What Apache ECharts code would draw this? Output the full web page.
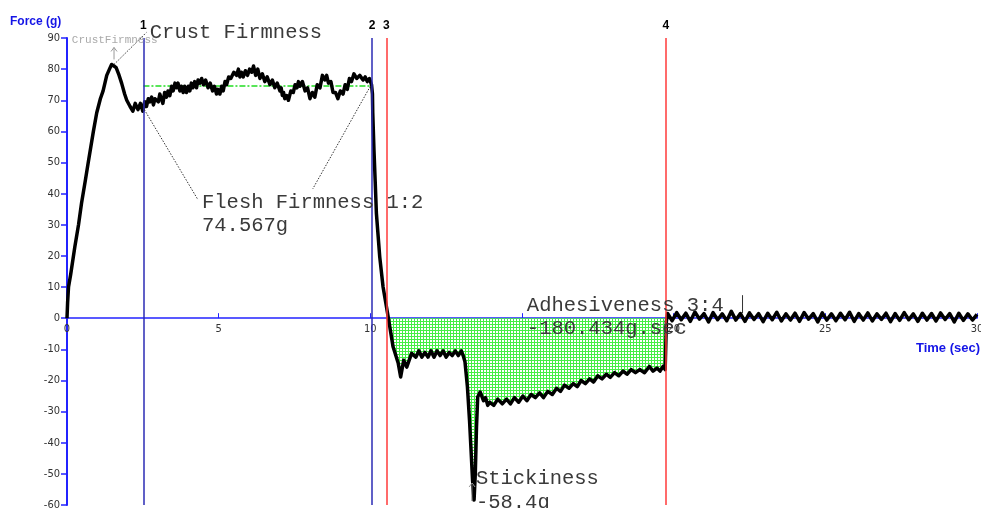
<!DOCTYPE html>
<html><head><meta charset="utf-8">
<script src="https://cdn.jsdelivr.net/npm/echarts@6/dist/echarts.min.js"></script>
<style>html,body{margin:0;padding:0;background:#fff}#c{width:981px;height:508px}</style>
</head><body><div id="c"></div>
<script>
// ---- data: [time (sec), force (g)] ----
const riseAndCrust = [[0,0],[0.02,5],[0.05,10],[0.12,14],[0.26,23],[0.38,30],[0.48,37],[0.60,44],[0.70,50],[0.87,60],[0.98,66],[1.10,70.5],[1.19,73],[1.31,78],[1.40,80],[1.47,81.5],[1.55,81],[1.62,80.5],[1.70,78.5],[1.80,75.5],[1.90,72],[1.97,70],[2.08,68],[2.17,66.5],[2.25,69],[2.34,67],[2.42,69],[2.50,66.5]];
const fleshPlateau = [[2.56,69.5],[2.62,68],[2.68,70.5],[2.73,69.5],[2.79,71],[2.85,68.5],[2.90,70.5],[2.96,71],[3.01,69.5],[3.06,72],[3.11,70.5],[3.16,69],[3.22,72.5],[3.28,71],[3.33,73],[3.39,71.5],[3.45,74.5],[3.50,73],[3.56,75.5],[3.61,74],[3.66,75.5],[3.72,73],[3.77,74.5],[3.83,72.5],[3.88,74.5],[3.94,72.5],[4.00,74.5],[4.05,73],[4.10,75.5],[4.15,74],[4.21,76],[4.27,74],[4.32,76.5],[4.38,75.5],[4.44,77],[4.50,75],[4.57,76.5],[4.65,74],[4.72,75.5],[4.80,73],[4.86,74.5],[4.93,72],[4.98,73.5],[5.04,72],[5.10,74.5],[5.15,73],[5.21,76],[5.26,75],[5.33,77.5],[5.40,77],[5.50,79],[5.59,78],[5.65,80],[5.70,77.5],[5.75,79],[5.81,77.5],[5.88,79.5],[5.95,78],[6.02,80],[6.09,79],[6.15,81],[6.22,78],[6.29,80],[6.36,77],[6.44,78.5],[6.52,76],[6.60,77.5],[6.69,75],[6.77,76.5],[6.85,74],[6.93,75.5],[7.02,73],[7.06,74],[7.10,71.5],[7.14,72.5],[7.18,70.5],[7.24,71.5],[7.30,70],[7.38,73],[7.46,72.5],[7.52,75],[7.58,74],[7.63,76],[7.68,74.5],[7.76,76],[7.85,73],[7.93,74],[8.01,70.5],[8.09,72.5],[8.17,71],[8.25,75],[8.34,74],[8.42,78],[8.50,76.5],[8.56,78],[8.62,75.5],[8.70,76],[8.77,72.5],[8.85,72.5],[8.93,70.5],[9.01,73],[9.10,72],[9.17,75],[9.24,73.5],[9.31,77],[9.38,76],[9.46,78.5],[9.55,77],[9.65,78],[9.76,76.5],[9.83,77.5],[9.90,76],[9.97,77],[10.04,75]];
const releaseAndDip = [[10.07,72],[10.08,66],[10.12,54],[10.16,44],[10.20,33.7],[10.31,19.7],[10.42,10],[10.59,0.3],[10.75,-9.2],[10.92,-14.5],[11.00,-18.9],[11.10,-13.5],[11.20,-15.7],[11.36,-11.3],[11.50,-12.5],[11.60,-10.5],[11.70,-12.5],[11.80,-11],[11.90,-12.5],[12.00,-10.5],[12.10,-12.5],[12.20,-10.5],[12.30,-12],[12.40,-10.5],[12.50,-12.5],[12.60,-11],[12.70,-12],[12.80,-10.5],[12.90,-12],[13.00,-10.5],[13.06,-12]];
const stickinessSpike = [[13.12,-14],[13.20,-22],[13.27,-32.8],[13.32,-42.4],[13.37,-52],[13.42,-58.4],[13.46,-50],[13.50,-35],[13.54,-25.3],[13.62,-23.7]];
const adhesionRecovery = [[13.73,-26.5],[13.80,-25.5],[13.87,-28],[13.94,-27],[14.07,-28],[14.20,-26],[14.35,-27.5],[14.49,-26],[14.62,-27.5],[14.75,-25.5],[14.89,-27],[15.03,-25],[15.16,-26.5],[15.30,-24.5],[15.44,-25.5],[15.58,-24],[15.71,-25.5],[15.85,-23.5],[16.00,-24.5],[16.14,-22.5],[16.27,-23.5],[16.40,-21.5],[16.55,-22.5],[16.69,-21],[16.82,-22],[16.95,-20],[17.09,-21],[17.23,-19.5],[17.36,-20.5],[17.50,-18.5],[17.64,-19.5],[17.78,-18],[17.91,-19],[18.05,-17.5],[18.19,-18.5],[18.33,-17],[18.46,-18],[18.60,-16.5],[18.74,-17.5],[18.88,-16.5],[19.04,-17.5],[19.20,-15.5],[19.32,-17],[19.45,-16],[19.55,-17],[19.65,-15.5],[19.72,-16.5]];
const baselineTail = [[19.76,-1],[19.80,1.5],[19.95,-0.8],[20.10,1.8],[20.25,-0.5],[20.40,1.6],[20.55,-1],[20.70,2],[20.85,-0.3],[21.00,1.5],[21.15,-1.2],[21.30,1.8],[21.45,-0.5],[21.60,1.4],[21.75,-0.8],[21.90,2.2],[22.05,-0.6],[22.20,1.5],[22.35,-1],[22.50,1.7],[22.65,-0.4],[22.80,1.5],[22.95,-1.1],[23.10,1.6],[23.25,-0.5],[23.40,1.9],[23.55,-0.9],[23.70,1.4],[23.85,-0.6],[24.00,1.6],[24.15,-1],[24.30,1.8],[24.45,-0.3],[24.60,1.5],[24.75,-1.2],[24.90,1.7],[25.05,-0.6],[25.20,1.4],[25.35,-0.8],[25.50,1.6],[25.65,-0.5],[25.80,1.9],[25.95,-1],[26.10,1.5],[26.25,-0.6],[26.40,1.7],[26.55,-0.9],[26.70,1.4],[26.85,-0.4],[27.00,1.6],[27.15,-1.1],[27.30,1.5],[27.45,-0.7],[27.60,1.8],[27.75,-0.5],[27.90,1.4],[28.05,-1],[28.20,1.6],[28.35,-0.6],[28.50,1.5],[28.65,-0.9],[28.80,1.7],[28.95,-0.4],[29.10,1.5],[29.25,-1.2],[29.40,1.6],[29.55,-0.7],[29.70,1.4],[29.85,-0.6],[30.00,1.2]];
const markerTimes = [2.52, 10.06, 10.53, 19.74];
const markerLabels = ['1', '2', '3', '4'];
const fleshFirmness = 74.567;
const adhesiveness = -180.434;
const crustPeak = [1.55, 81.5];
const stickinessMin = [13.42, -58.4];
const xRange = [0, 30, 5];
const yRange = [-60, 90, 10];

// ---- styles ----
const AXIS_BLUE = '#2323ff';
const markerColors = ['#2b2bb5', '#2b2bb5', '#ff3a3a', '#ff3a3a'];
const MONO = "'Liberation Mono', 'DejaVu Sans Mono', monospace";
const NARROW = "'Liberation Sans Narrow', 'DejaVu Sans Condensed', sans-serif";

const curve = [].concat(riseAndCrust, fleshPlateau, releaseAndDip, stickinessSpike, adhesionRecovery, baselineTail);
const fillPts = curve.filter(p => p[0] >= markerTimes[2] - 0.1 && p[0] < markerTimes[3]);

// dotted green fill pattern
const pc = document.createElement('canvas');
pc.width = 3; pc.height = 3;
const pctx = pc.getContext('2d');
pctx.fillStyle = '#ffffff'; pctx.fillRect(0, 0, 3, 3);
pctx.fillStyle = '#44ee44';
pctx.fillRect(0, 0, 1, 3);
pctx.fillRect(0, 0, 3, 1);

const chart = echarts.init(document.getElementById('c'), null, {renderer: 'canvas'});
chart.setOption({
  animation: false,
  backgroundColor: '#fff',
  grid: {left: 67, right: 4, top: 38, bottom: 3, containLabel: false, outerBoundsMode: 'none'},
  xAxis: {
    type: 'value', min: xRange[0], max: xRange[1], interval: xRange[2], position: 'bottom',
    axisLine: {onZero: false, lineStyle: {color: AXIS_BLUE, width: 1.5}},
    axisTick: {inside: true, length: 5, lineStyle: {color: AXIS_BLUE}},
    axisLabel: {color: '#333', fontSize: 11, fontFamily: NARROW, margin: 5},
    splitLine: {show: false}
  },
  yAxis: {
    type: 'value', min: yRange[0], max: yRange[1], interval: yRange[2],
    axisLine: {show: true, onZero: false, lineStyle: {color: AXIS_BLUE, width: 2}},
    axisTick: {show: true, length: 6, lineStyle: {color: AXIS_BLUE, width: 1.5}},
    axisLabel: {color: '#333', fontSize: 11, fontFamily: NARROW, margin: 7},
    splitLine: {show: false}
  },
  series: [
    {
      type: 'line', data: fillPts, showSymbol: false, silent: true, z: 1,
      lineStyle: {width: 0},
      areaStyle: {origin: 'auto', opacity: 1, color: {image: pc, repeat: 'repeat', imageWidth: 3, imageHeight: 3}}
    },
    {
      type: 'line', data: [[markerTimes[0], fleshFirmness], [markerTimes[1], fleshFirmness]],
      showSymbol: false, silent: true, z: 2,
      lineStyle: {color: '#22dd22', width: 1.5, type: [6, 2, 2, 2]}
    },
    {
      type: 'line', data: curve, showSymbol: false, silent: true, z: 3,
      lineStyle: {color: '#000', width: 3.5, join: 'round'},
      markLine: {
        symbol: 'none', silent: true, animation: false,
        label: {show: true, position: 'end', distance: 6, fontWeight: 'bold', fontSize: 12, color: '#000', fontFamily: 'Arial, Liberation Sans, sans-serif'},
        data: markerTimes.map((t, i) => ({
          xAxis: t,
          lineStyle: {color: markerColors[i], width: 1.5, type: 'solid'},
          label: {formatter: markerLabels[i]}
        }))
      }
    }
  ]
});

function P(x, y) { return chart.convertToPixel({gridIndex: 0}, [x, y]); }
// move the time axis up onto the zero line
const zeroY = P(0, 0)[1];
const bottomY = P(0, yRange[0])[1];
chart.setOption({xAxis: {offset: -(bottomY - zeroY)}});

function txt(str, at, font, fill, align) {
  return {type: 'text', silent: true, z: 10,
    style: {text: str, x: at[0], y: at[1], font: font, fill: fill, align: align || 'left', verticalAlign: 'middle'}};
}
function seg(a, b, color, dash) {
  return {type: 'line', silent: true, z: 9,
    shape: {x1: a[0], y1: a[1], x2: b[0], y2: b[1]},
    style: {stroke: color, lineWidth: 1, lineDash: dash || null}};
}
const big = '20.5px ' + MONO;
const dark = '#3a3a3a';
const peakPx = P(crustPeak[0], crustPeak[1]);
const stickPx = P(stickinessMin[0], stickinessMin[1]);
const arrowTop = [peakPx[0], peakPx[1] - 17];
const stickArrowTop = [stickPx[0] - 2, stickPx[1] - 17];
chart.setOption({
  graphic: [
    txt('Force (g)', [10, 22], 'bold 12px Arial, "Liberation Sans", sans-serif', '#1414e6'),
    txt('Time (sec)', [980, 348], 'bold 13px Arial, "Liberation Sans", sans-serif', '#1414e6', 'right'),
    txt('CrustFirmness', P(0.16, 89.4), '11px ' + MONO, '#aaaaaa'),
    seg([arrowTop[0], peakPx[1] - 5], arrowTop, '#999'),
    seg([arrowTop[0] - 3, arrowTop[1] + 4], arrowTop, '#999'),
    seg([arrowTop[0] + 3, arrowTop[1] + 4], arrowTop, '#999'),
    seg(peakPx, P(2.62, 91.8), '#333', [1.5, 1.5]),
    txt('Crust Firmness', P(2.73, 91.6), big, dark),
    seg(P(2.55, 67), P(4.32, 38), '#333', [1.5, 1.5]),
    seg(P(10.0, 74.5), P(8.1, 41.5), '#333', [1.5, 1.5]),
    txt('Flesh Firmness 1:2', P(4.45, 37), big, dark),
    txt(fleshFirmness.toFixed(3) + 'g', P(4.45, 29.9), big, dark),
    txt('Adhesiveness 3:4', P(15.16, 3.9), big, dark),
    txt(adhesiveness.toFixed(3) + 'g.sec', P(15.16, -3.2), big, dark),
    seg(P(22.27, 7.4), P(22.27, 1.6), '#333'),
    txt('Stickiness', P(13.48, -51.4), big, dark),
    txt(stickinessMin[1].toFixed(1) + 'g', P(13.48, -59.1), big, dark),
    seg([stickArrowTop[0], stickArrowTop[1] + 2], [stickArrowTop[0], stickPx[1] + 1], '#555'),
    seg([stickArrowTop[0] - 3, stickArrowTop[1] + 4], [stickArrowTop[0], stickArrowTop[1]], '#999'),
    seg([stickArrowTop[0] + 3, stickArrowTop[1] + 4], [stickArrowTop[0], stickArrowTop[1]], '#999')
  ]
});
</script>
</body></html>
